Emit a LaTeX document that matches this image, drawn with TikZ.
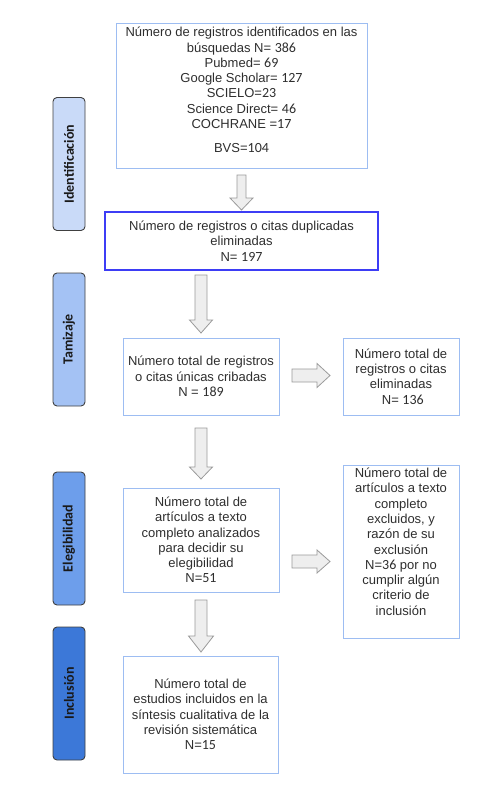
\documentclass[tikz,border=0pt]{standalone}
\usepackage{fontspec}
\setmainfont{Liberation Sans}
\newfontfamily\calfont{Carlito}
\definecolor{bord}{HTML}{9DBDF2}
\definecolor{dupb}{HTML}{3D3DF5}
\definecolor{lone}{HTML}{C9DAF8}
\definecolor{ltwo}{HTML}{A4C2F4}
\definecolor{lthree}{HTML}{6D9EEB}
\definecolor{lfour}{HTML}{3C78D8}
\definecolor{arrf}{HTML}{EEEEEE}
\definecolor{arrd}{HTML}{9A9A9A}
\newcommand{\nc}[1]{{\calfont\fontsize{14}{15.3}\selectfont #1}}
% down block arrow: cx, shaft half, head half, ytop, ytip, ybase
\newcommand{\downarr}[6]{\draw[blockarr] (#1-#2,#4) -- (#1+#2,#4) -- (#1+#2,#6) -- (#1+#3,#6) -- (#1,#5) -- (#1-#3,#6) -- (#1-#2,#6) -- cycle;}
% right block arrow: cy, shaft half, head half, xleft, xtip, xbase
\newcommand{\rightarr}[6]{\draw[blockarr] (#4,#1-#2) -- (#6,#1-#2) -- (#6,#1-#3) -- (#5,#1) -- (#6,#1+#3) -- (#6,#1+#2) -- (#4,#1+#2) -- cycle;}
\begin{document}
\begin{tikzpicture}[x=1pt,y=-1pt,
  box/.style={draw=bord, line width=0.9pt, inner sep=0pt, align=center,
    font=\fontsize{13}{15.3}\selectfont, text=black!82},
  lab/.style={draw=black!75, line width=0.9pt, rounded corners=4pt, rotate=90,
    minimum width=133pt, minimum height=32pt, inner sep=0pt,
    font=\calfont\bfseries\fontsize{14}{15}\selectfont, text=black!90},
  blockarr/.style={draw=arrd, fill=arrf, line width=0.8pt, line join=miter},
]
\useasboundingbox (0,0) rectangle (496,792);

% phase labels
\node[lab, fill=lone] (lid) at (69,164) {Identificación};
\node[lab, fill=ltwo] (ltam) at (69,339.5) {Tamizaje};
\node[lab, fill=lthree] (lele) at (69,538.5) {Elegibilidad};
\node[lab, fill=lfour] (linc) at (69,693.5) {Inclusión};

% boxes
\node[box, minimum width=251pt, minimum height=145pt, text depth=11pt] (ident) at (241.5,95.5)
  {Número de registros identificados en las\\
   búsquedas N= \nc{386}\\
   Pubmed= \nc{69}\hspace*{4pt}\\
   Google Scholar= \nc{127}\\
   SCIELO=\nc{23}\\
   Science Direct= \nc{46}\\
   COCHRANE =\nc{17}\\[9pt]
   BVS=\nc{104}};
\node[box, draw=dupb, line width=1.4pt, minimum width=273pt, minimum height=58pt] (dup) at (241.5,241)
  {Número de registros o citas duplicadas\\ eliminadas\\ N= \nc{197}};
\node[box, minimum width=156pt, minimum height=77pt] (tam) at (201,376.5)
  {Número total de registros\\ o citas únicas cribadas\\ N = \nc{189}};
\node[box, minimum width=116pt, minimum height=77pt] (elim) at (401,376.5)
  {Número total de\\ registros o citas\\ eliminadas\\ \ N= \nc{136}};
\node[box, minimum width=156pt, minimum height=104pt] (ele) at (201,540)
  {Número total de\\ artículos a texto\\ completo analizados\\ para decidir su\\ elegibilidad\\ N=\nc{51}};
\node[box, minimum width=116pt, minimum height=173pt] (excl) at (401,551.5) {};
\node[box, draw=none, anchor=north] (excltxt) at ([yshift=-3pt]excl.north)
  {Número total de\\ artículos a texto\\ completo\\ excluidos, y\\ razón de su\\ exclusión\\ N=\nc{36} por no\\ cumplir algún\\ criterio de\\ inclusión};
\node[box, minimum width=155pt, minimum height=117pt] (inc) at (200.5,714.5)
  {Número total de\\ estudios incluidos en la\\ síntesis cualitativa de la\\ revisión sistemática\\ N=\nc{15}};

% block arrows
\downarr{241.5}{4.5}{11.5}{175}{210}{198}
\downarr{201}{6}{11.5}{275}{333}{320}
\downarr{201}{6}{11.5}{428}{479}{467}
\downarr{201}{6}{12.5}{600}{652}{636}
\rightarr{375.5}{6.5}{12}{292}{330}{317}
\rightarr{561.5}{6.5}{11.5}{292}{330}{317}
\end{tikzpicture}
\end{document}
